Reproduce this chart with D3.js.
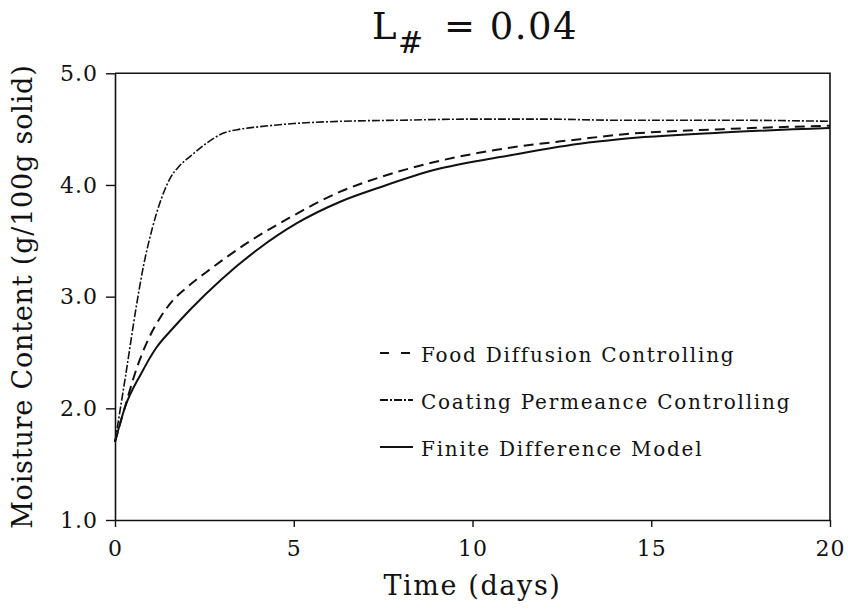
<!DOCTYPE html>
<html>
<head>
<meta charset="utf-8">
<script src="https://cdn.jsdelivr.net/npm/d3@7"></script>
<style>
  html, body { margin: 0; padding: 0; background: #fff; }
  svg { display: block; }
  text { font-family: "DejaVu Serif", serif; fill: #111; }
</style>
</head>
<body>
<svg id="chart" width="848" height="610"></svg>
<script>
// Moisture uptake of a coated food, L# = 0.04
const foodDays = [0, 0.25, 0.63, 0.95, 1.28, 1.6, 2.0, 2.68, 3.79, 4.9, 6.3, 7.42, 9, 10.77, 13, 14.1, 17, 20];
const foodMoisture = [1.70, 1.98, 2.38, 2.63, 2.82, 2.96, 3.08, 3.25, 3.50, 3.71, 3.94, 4.07, 4.21, 4.32, 4.41, 4.45, 4.50, 4.53];

const coatDays = [0, 0.3, 0.6, 0.8, 1.05, 1.3, 1.56, 1.8, 2.12, 2.5, 3.0, 3.5, 4.0, 5.0, 6.3, 8, 10, 12, 14, 17, 20];
const coatMoisture = [1.70, 2.30, 2.92, 3.28, 3.62, 3.88, 4.07, 4.17, 4.26, 4.36, 4.46, 4.50, 4.52, 4.55, 4.57, 4.58, 4.59, 4.59, 4.58, 4.58, 4.57];

const fdDays = [0, 0.28, 0.73, 1.15, 1.6, 2.12, 2.96, 3.98, 5.1, 6.3, 7.42, 9, 10.77, 13, 14.1, 17, 20];
const fdMoisture = [1.70, 2.01, 2.31, 2.54, 2.71, 2.89, 3.15, 3.42, 3.66, 3.85, 3.98, 4.14, 4.25, 4.37, 4.41, 4.47, 4.51];

const xTicks = [0, 5, 10, 15, 20];
const yTicks = [1.0, 2.0, 3.0, 4.0, 5.0];

const seriesNames = ["Food Diffusion Controlling", "Coating Permeance Controlling", "Finite Difference Model"];

const svg = d3.select("#chart");
const plotLeft = 115, plotRight = 830, plotTop = 73.3, plotBottom = 520;

const x = d3.scaleLinear().domain([0, 20]).range([plotLeft, plotRight]);
const y = d3.scaleLinear().domain([1, 5]).range([plotBottom, plotTop]);

// frame top and right
svg.append("path")
  .attr("d", `M${plotLeft},${plotTop}H${plotRight}V${plotBottom}`)
  .attr("fill", "none").attr("stroke", "#111").attr("stroke-width", 1.6);

const xAxis = svg.append("g")
  .attr("transform", `translate(0,${plotBottom})`)
  .call(d3.axisBottom(x).tickValues(xTicks).tickFormat(d3.format("d"))
    .tickSize(7).tickSizeOuter(0).tickPadding(13));

const yAxis = svg.append("g")
  .attr("transform", `translate(${plotLeft},0)`)
  .call(d3.axisLeft(y).tickValues(yTicks).tickFormat(d3.format(".1f"))
    .tickSize(9).tickSizeOuter(0).tickPadding(8));

[xAxis, yAxis].forEach(g => {
  g.select(".domain").attr("stroke", "#111").attr("stroke-width", 1.6);
  g.selectAll(".tick line").attr("stroke", "#111").attr("stroke-width", 1.4);
  g.selectAll(".tick text")
    .style("font-family", "DejaVu Serif, serif")
    .style("font-size", "22px")
    .style("letter-spacing", "1px")
    .attr("fill", "#111");
});

const line = d3.line()
  .x(d => x(d[0]))
  .y(d => y(d[1]))
  .curve(d3.curveMonotoneX);

const styles = [
  { days: foodDays, vals: foodMoisture, dash: "10,6", width: 2 },
  { days: coatDays, vals: coatMoisture, dash: "8,2,2,2", width: 1.6 },
  { days: fdDays, vals: fdMoisture, dash: null, width: 2 }
];

styles.forEach(s => {
  svg.append("path")
    .datum(d3.zip(s.days, s.vals))
    .attr("d", line)
    .attr("fill", "none")
    .attr("stroke", "#111")
    .attr("stroke-width", s.width)
    .attr("stroke-dasharray", s.dash);
});

// legend
const legendY = [353, 400, 447];
const legendDash = ["9,12", "8,2,2,2", null];
seriesNames.forEach((name, i) => {
  svg.append("line")
    .attr("x1", 380).attr("x2", 413)
    .attr("y1", legendY[i]).attr("y2", legendY[i])
    .attr("stroke", "#111").attr("stroke-width", 1.8)
    .attr("stroke-dasharray", legendDash[i]);
  svg.append("text")
    .attr("x", 421).attr("y", legendY[i] + 8.5)
    .style("font-size", "20px")
    .style("letter-spacing", "1.75px")
    .text(name);
});

// title
const title = svg.append("text")
  .attr("x", 372).attr("y", 39)
  .style("font-size", "37px")
  .style("letter-spacing", "1.5px");
title.append("tspan").text("L");
title.append("tspan").attr("dy", 14).style("font-size", "30px").text("#");
title.append("tspan").attr("dy", -14).attr("dx", 6).text(" = 0.04");

// axis titles
svg.append("text")
  .attr("x", (plotLeft + plotRight) / 2).attr("y", 595)
  .attr("text-anchor", "middle")
  .style("font-size", "27px")
  .style("letter-spacing", "1.6px")
  .text("Time (days)");

svg.append("text")
  .attr("transform", `translate(32,${(plotTop + plotBottom) / 2}) rotate(-90)`)
  .attr("text-anchor", "middle")
  .style("font-size", "27px")
  .style("letter-spacing", "0.8px")
  .text("Moisture Content (g/100g solid)");
</script>
</body>
</html>
